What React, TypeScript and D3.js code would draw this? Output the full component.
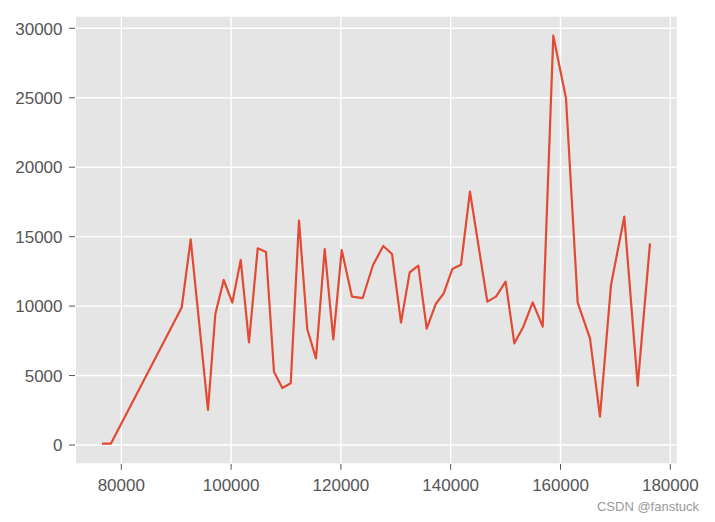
import React from "react";
import * as d3 from "d3";

const xValues = [76480, 78120, 91000, 92640, 95790, 97130, 98650, 100220, 101750, 103260, 104850, 106360, 107810, 109330, 110860, 112370, 113880, 115460, 117050, 118620, 120150, 122020, 123970, 125850, 127720, 129310, 130950, 132530, 134100, 135630, 137270, 138730, 140290, 141880, 143510, 146670, 148250, 150010, 151590, 153230, 154940, 156760, 158690, 161000, 163130, 165370, 167190, 169200, 171620, 174060, 176300];
const yValues = [100, 100, 9900, 14800, 2520, 9430, 11880, 10250, 13320, 7390, 14160, 13900, 5280, 4100, 4440, 16150, 8330, 6240, 14110, 7610, 14040, 10680, 10580, 12960, 14330, 13750, 8810, 12430, 12910, 8380, 10150, 10920, 12670, 12980, 18240, 10320, 10680, 11760, 7320, 8520, 10270, 8520, 29470, 24960, 10250, 7680, 2040, 11520, 16440, 4270, 14520];
const xTicks = [80000, 100000, 120000, 140000, 160000, 180000];
const yTicks = [0, 5000, 10000, 15000, 20000, 25000, 30000];

const W = 715;
const H = 522;
const plot = { left: 76, right: 676.7, top: 16.7, bottom: 463.3 };

export default function App() {
  const x = d3.scaleLinear().domain([80000, 180000]).range([121.3, 670.3]);
  const y = d3.scaleLinear().domain([0, 30000]).range([445, 28.3]);
  const pts = xValues.map((v, i) => [v, yValues[i]] as [number, number]);
  const line = d3
    .line<[number, number]>()
    .x((d) => x(d[0]))
    .y((d) => y(d[1]));
  const font = "'Liberation Sans', Arial, sans-serif";
  return (
    <div style={{ position: "fixed", left: 0, top: 0 }}>
      <svg width={W} height={H} style={{ display: "block", background: "#fff" }}>
        <rect
          x={plot.left}
          y={plot.top}
          width={plot.right - plot.left}
          height={plot.bottom - plot.top}
          fill="#E5E5E5"
        />
        {xTicks.map((t) => (
          <line key={"gx" + t} x1={x(t)} x2={x(t)} y1={plot.top} y2={plot.bottom} stroke="#fff" strokeWidth={1.4} />
        ))}
        {yTicks.map((t) => (
          <line key={"gy" + t} x1={plot.left} x2={plot.right} y1={y(t)} y2={y(t)} stroke="#fff" strokeWidth={1.4} />
        ))}
        <path d={line(pts) || ""} fill="none" stroke="#E24A33" strokeWidth={2.2} strokeLinejoin="round" />
        {xTicks.map((t) => (
          <g key={"tx" + t}>
            <line x1={x(t)} x2={x(t)} y1={plot.bottom + 0.7} y2={plot.bottom + 6.5} stroke="#555" strokeWidth={1} />
            <text x={x(t)} y={490.5} textAnchor="middle" fontFamily={font} fontSize={17} fill="#555">
              {t}
            </text>
          </g>
        ))}
        {yTicks.map((t) => (
          <g key={"ty" + t}>
            <line x1={plot.left - 7} x2={plot.left - 1} y1={y(t)} y2={y(t)} stroke="#555" strokeWidth={1} />
            <text x={62.5} y={y(t) + 6.2} textAnchor="end" fontFamily={font} fontSize={17} fill="#555">
              {t}
            </text>
          </g>
        ))}
        <text x={699} y={511} textAnchor="end" fontFamily={font} fontSize={13} fill="#999">
          CSDN @fanstuck
        </text>
      </svg>
    </div>
  );
}
